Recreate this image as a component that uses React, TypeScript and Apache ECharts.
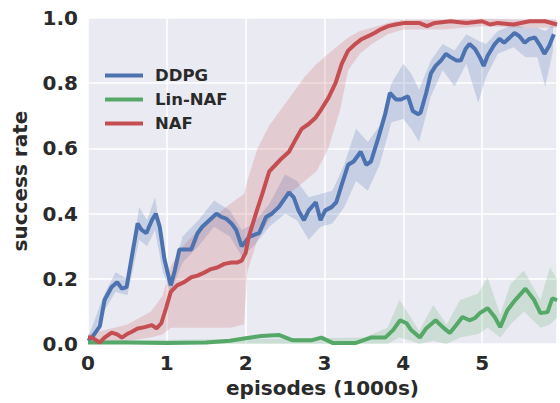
import React, { useEffect, useRef } from "react";
import * as echarts from "echarts";

// ---- DDPG (blue) ----
const ddpgX = [0, 0.05, 0.15, 0.21, 0.30, 0.37, 0.43, 0.49, 0.55, 0.63, 0.68, 0.74, 0.81, 0.86, 0.91, 0.97, 1.05, 1.10, 1.16, 1.22, 1.31, 1.39, 1.45, 1.54, 1.63, 1.69, 1.75, 1.82, 1.88, 1.95, 2.05, 2.17, 2.26, 2.33, 2.42, 2.55, 2.61, 2.67, 2.74, 2.80, 2.89, 2.95, 3.01, 3.09, 3.15, 3.22, 3.30, 3.37, 3.46, 3.53, 3.59, 3.68, 3.77, 3.83, 3.91, 3.97, 4.06, 4.12, 4.19, 4.22, 4.29, 4.35, 4.41, 4.48, 4.54, 4.60, 4.67, 4.73, 4.79, 4.84, 4.91, 4.97, 5.02, 5.07, 5.16, 5.22, 5.28, 5.35, 5.41, 5.47, 5.54, 5.60, 5.67, 5.74, 5.79, 5.85, 5.91];
const ddpgY = [0.01, 0.02, 0.055, 0.135, 0.175, 0.19, 0.17, 0.175, 0.26, 0.37, 0.35, 0.34, 0.38, 0.40, 0.36, 0.26, 0.18, 0.225, 0.29, 0.29, 0.29, 0.34, 0.36, 0.38, 0.40, 0.39, 0.385, 0.37, 0.35, 0.30, 0.33, 0.34, 0.39, 0.40, 0.42, 0.465, 0.45, 0.41, 0.38, 0.41, 0.435, 0.38, 0.41, 0.42, 0.435, 0.49, 0.55, 0.56, 0.59, 0.55, 0.56, 0.63, 0.705, 0.77, 0.75, 0.75, 0.76, 0.715, 0.705, 0.71, 0.77, 0.83, 0.853, 0.87, 0.89, 0.88, 0.87, 0.87, 0.905, 0.92, 0.905, 0.88, 0.853, 0.884, 0.92, 0.936, 0.924, 0.94, 0.954, 0.945, 0.924, 0.936, 0.94, 0.914, 0.89, 0.914, 0.95];
const ddpgBandX = [0, 0.2, 0.35, 0.5, 0.65, 0.75, 0.85, 0.95, 1.05, 1.2, 1.4, 1.6, 1.8, 1.95, 2.1, 2.3, 2.5, 2.65, 2.8, 2.95, 3.1, 3.25, 3.4, 3.55, 3.7, 3.85, 4.0, 4.1, 4.2, 4.35, 4.5, 4.65, 4.8, 4.95, 5.05, 5.2, 5.4, 5.55, 5.7, 5.8, 5.9];
const ddpgHi = [0.02, 0.15, 0.22, 0.2, 0.42, 0.38, 0.45, 0.3, 0.2, 0.33, 0.38, 0.44, 0.41, 0.35, 0.37, 0.43, 0.52, 0.5, 0.45, 0.46, 0.47, 0.55, 0.66, 0.62, 0.67, 0.8, 0.86, 0.83, 0.78, 0.87, 0.92, 0.9, 0.95, 0.93, 0.92, 0.96, 0.98, 0.97, 0.97, 0.96, 0.98];
const ddpgLo = [0.0, 0.1, 0.16, 0.15, 0.32, 0.3, 0.35, 0.22, 0.16, 0.25, 0.3, 0.36, 0.33, 0.27, 0.3, 0.36, 0.4, 0.38, 0.32, 0.36, 0.37, 0.42, 0.5, 0.47, 0.55, 0.68, 0.69, 0.66, 0.62, 0.76, 0.84, 0.79, 0.86, 0.74, 0.82, 0.89, 0.91, 0.88, 0.88, 0.79, 0.9];

// ---- Lin-NAF (green) ----
const linX = [0, 0.5, 1.0, 1.5, 1.8, 2.0, 2.2, 2.42, 2.59, 2.84, 2.96, 3.11, 3.39, 3.59, 3.77, 3.87, 3.96, 4.04, 4.10, 4.21, 4.29, 4.41, 4.50, 4.59, 4.67, 4.75, 4.84, 4.91, 4.97, 5.07, 5.16, 5.23, 5.32, 5.42, 5.55, 5.66, 5.74, 5.83, 5.89, 5.95];
const linY = [0.005, 0.005, 0.003, 0.005, 0.01, 0.018, 0.025, 0.028, 0.012, 0.012, 0.02, 0.003, 0.003, 0.02, 0.02, 0.043, 0.073, 0.064, 0.043, 0.02, 0.048, 0.073, 0.052, 0.034, 0.058, 0.083, 0.073, 0.08, 0.095, 0.11, 0.083, 0.052, 0.104, 0.135, 0.17, 0.135, 0.095, 0.098, 0.14, 0.135];
const linBandX = [0, 3.5, 3.8, 3.95, 4.1, 4.2, 4.38, 4.55, 4.72, 4.95, 5.07, 5.23, 5.36, 5.53, 5.74, 5.86, 5.95];
const linHi = [0.01, 0.02, 0.05, 0.135, 0.08, 0.04, 0.12, 0.06, 0.135, 0.155, 0.205, 0.09, 0.185, 0.226, 0.135, 0.236, 0.2];
const linLo = [0.0, 0.0, 0.0, 0.02, 0.01, 0.0, 0.01, 0.0, 0.02, 0.03, 0.05, 0.02, 0.06, 0.1, 0.05, 0.06, 0.08];

// ---- NAF (red) ----
const nafX = [0, 0.05, 0.15, 0.21, 0.30, 0.37, 0.43, 0.49, 0.55, 0.63, 0.72, 0.81, 0.87, 0.93, 0.99, 1.05, 1.13, 1.22, 1.31, 1.39, 1.48, 1.56, 1.64, 1.73, 1.82, 1.89, 1.95, 2.0, 2.04, 2.13, 2.21, 2.30, 2.38, 2.46, 2.55, 2.64, 2.71, 2.80, 2.89, 2.96, 3.05, 3.14, 3.22, 3.30, 3.39, 3.47, 3.56, 3.64, 3.72, 3.81, 3.90, 4.02, 4.2, 4.3, 4.4, 4.6, 4.8, 5.0, 5.1, 5.2, 5.4, 5.6, 5.8, 5.95];
const nafY = [0.02, 0.02, 0.005, 0.02, 0.035, 0.03, 0.02, 0.03, 0.037, 0.048, 0.052, 0.058, 0.048, 0.064, 0.11, 0.16, 0.18, 0.19, 0.205, 0.21, 0.22, 0.23, 0.235, 0.246, 0.25, 0.25, 0.256, 0.28, 0.33, 0.40, 0.46, 0.53, 0.55, 0.57, 0.59, 0.63, 0.66, 0.675, 0.695, 0.72, 0.755, 0.80, 0.86, 0.90, 0.92, 0.935, 0.945, 0.955, 0.966, 0.975, 0.98, 0.985, 0.985, 0.975, 0.985, 0.99, 0.985, 0.99, 0.98, 0.985, 0.98, 0.99, 0.99, 0.98];
const nafBandX = [0, 0.5, 0.8, 0.95, 1.05, 1.2, 1.4, 1.6, 1.8, 1.98, 2.02, 2.15, 2.3, 2.45, 2.6, 2.75, 2.9, 3.05, 3.2, 3.3, 3.45, 3.6, 3.8, 4.0, 4.5, 5.0, 5.5, 5.95];
const nafHi = [0.03, 0.06, 0.1, 0.15, 0.24, 0.3, 0.35, 0.39, 0.43, 0.46, 0.5, 0.6, 0.67, 0.72, 0.77, 0.82, 0.86, 0.89, 0.92, 0.94, 0.96, 0.97, 0.985, 0.995, 0.995, 0.998, 0.995, 0.995];
const nafLo = [0.0, 0.01, 0.02, 0.03, 0.05, 0.05, 0.05, 0.05, 0.05, 0.06, 0.22, 0.32, 0.38, 0.43, 0.47, 0.5, 0.53, 0.6, 0.72, 0.84, 0.89, 0.92, 0.95, 0.965, 0.965, 0.975, 0.97, 0.97];

const seriesNames = ["DDPG", "Lin-NAF", "NAF"];
const xTicks = [0, 1, 2, 3, 4, 5];

const BLUE = "#4C72B0";
const GREEN = "#55A868";
const RED = "#C44E52";
const TEXT = "#2a2a2a";
const FONT = "DejaVu Sans";

function pairs(xs: number[], ys: number[]) {
  const n = Math.min(xs.length, ys.length);
  const out: number[][] = [];
  for (let i = 0; i < n; i++) out.push([xs[i], ys[i]]);
  return out;
}

function band(name: string, xs: number[], lo: number[], hi: number[], fill: string) {
  const n = Math.min(xs.length, lo.length, hi.length);
  return {
    type: "custom",
    name,
    clip: true,
    silent: true,
    z: 1,
    data: [[xs[0], lo[0]]],
    renderItem: (_params: any, api: any) => {
      const pts: number[][] = [];
      for (let i = 0; i < n; i++) pts.push(api.coord([xs[i], hi[i]]));
      for (let i = n - 1; i >= 0; i--) pts.push(api.coord([xs[i], lo[i]]));
      return { type: "polygon", shape: { points: pts }, style: { fill } };
    },
  };
}

function line(name: string, xs: number[], ys: number[], color: string) {
  return {
    type: "line",
    name,
    data: pairs(xs, ys),
    showSymbol: false,
    symbol: "none",
    z: 3,
    color,
    lineStyle: { color, width: 4 },
  };
}

export default function App() {
  const ref = useRef<HTMLDivElement>(null);
  useEffect(() => {
    if (!ref.current) return;
    const chart = echarts.init(ref.current, null, { renderer: "svg" });
    chart.setOption({
      animation: false,
      grid: {
        left: 88,
        right: 0,
        top: 18,
        bottom: 58,
        show: true,
        backgroundColor: "#EAEAF2",
        borderWidth: 0,
      },
      legend: {
        data: seriesNames,
        orient: "vertical",
        left: 100,
        top: 62,
        icon: "rect",
        itemWidth: 38,
        itemHeight: 4,
        itemGap: 7,
        textStyle: {
          fontFamily: FONT,
          fontWeight: "bold",
          fontSize: 16.5,
          lineHeight: 17,
          color: TEXT,
          padding: [0, 0, 0, 7],
        },
      },
      xAxis: {
        type: "value",
        min: 0,
        max: 5.95,
        interval: 1,
        name: "episodes (1000s)",
        nameLocation: "middle",
        nameGap: 31,
        nameTextStyle: { fontFamily: FONT, fontWeight: "bold", fontSize: 20, color: TEXT },
        axisLine: { show: false },
        axisTick: { show: false },
        axisLabel: {
          margin: 9,
          fontFamily: FONT,
          fontWeight: "bold",
          fontSize: 20,
          color: TEXT,
          formatter: (v: number) => (xTicks.indexOf(v) >= 0 ? String(v) : ""),
        },
        splitLine: { show: true, lineStyle: { color: "#ffffff", width: 1.5 } },
      },
      yAxis: {
        type: "value",
        min: 0,
        max: 1,
        interval: 0.2,
        name: "success rate",
        nameLocation: "middle",
        nameGap: 58,
        nameTextStyle: { fontFamily: FONT, fontWeight: "bold", fontSize: 20, color: TEXT },
        axisLine: { show: false },
        axisTick: { show: false },
        axisLabel: {
          margin: 10,
          fontFamily: FONT,
          fontWeight: "bold",
          fontSize: 20,
          color: TEXT,
          formatter: (v: number) => v.toFixed(1),
        },
        splitLine: { show: true, lineStyle: { color: "#ffffff", width: 1.5 } },
      },
      series: [
        band("DDPG band", ddpgBandX, ddpgLo, ddpgHi, "rgba(76,114,176,0.22)"),
        band("Lin-NAF band", linBandX, linLo, linHi, "rgba(85,168,104,0.2)"),
        band("NAF band", nafBandX, nafLo, nafHi, "rgba(196,78,82,0.2)"),
        line("DDPG", ddpgX, ddpgY, BLUE),
        line("Lin-NAF", linX, linY, GREEN),
        line("NAF", nafX, nafY, RED),
      ],
    });
    return () => chart.dispose();
  }, []);
  return (
    <div
      ref={ref}
      style={{ position: "absolute", left: 0, top: 0, width: 560, height: 403 }}
    />
  );
}
